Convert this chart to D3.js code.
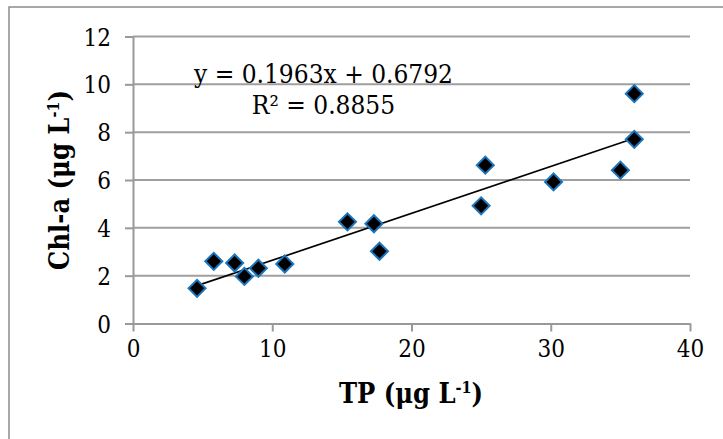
<!DOCTYPE html>
<html>
<head>
<meta charset="utf-8">
<script src="https://cdn.jsdelivr.net/npm/d3@7"></script>
<style>
  body { margin: 0; background: #fff; }
  svg text { font-family: "DejaVu Serif Condensed", "DejaVu Serif", serif; font-stretch: condensed; }
</style>
</head>
<body>
<script>
// data
const tp = [4.6, 5.8, 7.3, 8.0, 9.0, 10.9, 15.4, 17.3, 17.7, 25.0, 25.3, 30.2, 35.0, 36.0, 36.0];
const chla = [1.47, 2.6, 2.53, 1.97, 2.31, 2.49, 4.25, 4.17, 3.02, 4.92, 6.62, 5.92, 6.41, 7.7, 9.61];
const xTicks = [0, 10, 20, 30, 40];
const yTicks = [0, 2, 4, 6, 8, 10, 12];
const slope = 0.1963;
const intercept = 0.6792;
const rSquared = 0.8855;

const width = 723;
const height = 439;

const svg = d3.select("body")
  .append("svg")
  .attr("width", width)
  .attr("height", height)

// outer chart border (runs off the right and bottom edges)
svg.append("rect")
  .attr("x", 9)
  .attr("y", 7)
  .attr("width", 760)
  .attr("height", 480)
  .attr("fill", "none")
  .attr("stroke", "#8c8c8c")
  .attr("stroke-width", 1.5)

const x = d3.scaleLinear().domain([0, 40]).range([133, 690]);
const y = d3.scaleLinear().domain([0, 12]).range([323.5, 36.5]);

// horizontal gridlines
svg.append("g")
  .selectAll("line")
  .data(yTicks.filter(d => d > 0))
  .enter()
  .append("line")
  .attr("x1", x(0))
  .attr("x2", x(40))
  .attr("y1", d => y(d))
  .attr("y2", d => y(d))
  .attr("stroke", "#9f9f9f")
  .attr("stroke-width", 2)

const xAxis = d3.axisBottom(x).tickValues(xTicks).tickSize(8).tickSizeOuter(0).tickPadding(8);
const yAxis = d3.axisLeft(y).tickValues(yTicks).tickSize(8).tickSizeOuter(0).tickPadding(14);

const gx = svg.append("g")
  .attr("transform", `translate(0, ${y(0)})`)
  .call(xAxis)
const gy = svg.append("g")
  .attr("transform", `translate(${x(0)}, 0)`)
  .call(yAxis)

;[gx, gy].forEach(g => {
  g.select(".domain").attr("stroke", "#999").attr("stroke-width", 2)
  g.selectAll(".tick line").attr("stroke", "#999").attr("stroke-width", 2)
  g.selectAll(".tick text")
    .attr("fill", "#000")
    .style("font-size", "24px")
})
gy.selectAll(".tick text").attr("dy", "0.36em")

// trendline
const xMin = d3.min(tp), xMax = d3.max(tp);
svg.append("line")
  .attr("x1", x(xMin))
  .attr("y1", y(slope * xMin + intercept))
  .attr("x2", x(xMax))
  .attr("y2", y(slope * xMax + intercept))
  .attr("stroke", "#000")
  .attr("stroke-width", 1.7)

// diamond markers
const diamond = d3.symbol().type(d3.symbolSquare).size(145);
svg.append("g")
  .selectAll("path")
  .data(tp)
  .enter()
  .append("path")
  .attr("d", diamond)
  .attr("transform", (d, i) => `translate(${x(d)}, ${y(chla[i])}) rotate(45)`)
  .attr("fill", "#000")
  .attr("stroke", "#1b76bd")
  .attr("stroke-width", 2)

// equation label
svg.append("text")
  .attr("x", 323.5)
  .attr("y", 83)
  .attr("text-anchor", "middle")
  .style("font-size", "26px")
  .text(`y = ${slope}x + ${intercept}`)

const r2 = svg.append("text")
  .attr("x", 323.5)
  .attr("y", 114)
  .attr("text-anchor", "middle")
  .style("font-size", "26px")
r2.append("tspan").text("R")
r2.append("tspan").text("²")
r2.append("tspan").text(` = ${rSquared}`)

// axis titles
const xt = svg.append("text")
  .attr("x", 411)
  .attr("y", 403)
  .attr("text-anchor", "middle")
  .style("font-size", "27px")
  .style("font-weight", "bold")
xt.append("tspan").text("TP (μg L")
xt.append("tspan").attr("dy", -10).style("font-size", "16px").text("-1")
xt.append("tspan").attr("dy", 10).text(")")

const yt = svg.append("text")
  .attr("transform", "translate(69, 180) rotate(-90)")
  .attr("text-anchor", "middle")
  .style("font-size", "27px")
  .style("font-weight", "bold")
yt.append("tspan").text("Chl-a (μg L")
yt.append("tspan").attr("dy", -10).style("font-size", "16px").text("-1")
yt.append("tspan").attr("dy", 10).text(")")
</script>
</body>
</html>
